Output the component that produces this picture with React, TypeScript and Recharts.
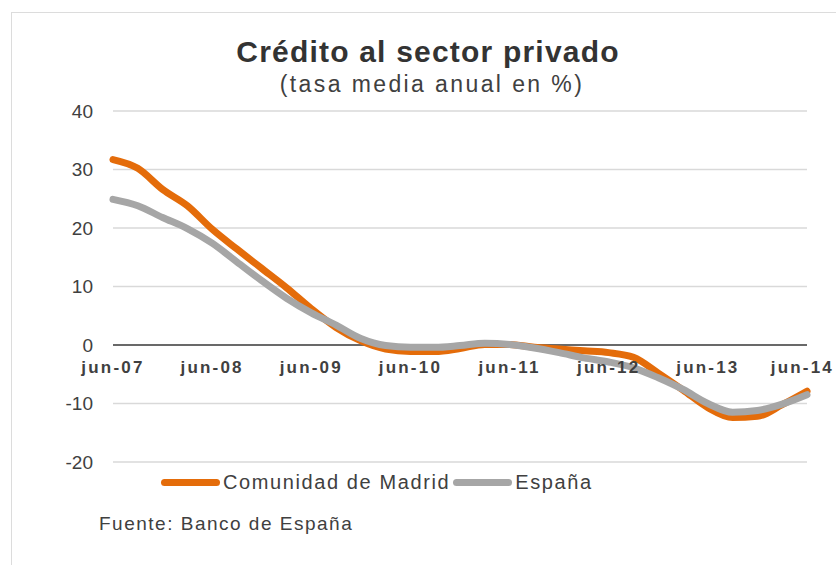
import React from 'react';
import {
  LineChart, Line, XAxis, YAxis, CartesianGrid, ReferenceLine,
} from 'recharts';

const MADRID_COLOR = '#E46C0A';
const SPAIN_COLOR = '#A6A6A6';
const GRID_COLOR = '#D9D9D9';
const TEXT_COLOR = '#404040';
const FONT = '"Liberation Sans", Arial, sans-serif';
const WIDTH = 836;

// quarterly points, jun-07 .. jun-14
const quarters = [
  'jun-07', 'sep-07', 'dic-07', 'mar-08',
  'jun-08', 'sep-08', 'dic-08', 'mar-09',
  'jun-09', 'sep-09', 'dic-09', 'mar-10',
  'jun-10', 'sep-10', 'dic-10', 'mar-11',
  'jun-11', 'sep-11', 'dic-11', 'mar-12',
  'jun-12', 'sep-12', 'dic-12', 'mar-13',
  'jun-13', 'sep-13', 'dic-13', 'mar-14',
  'jun-14',
];

const madrid = [
  31.7, 30.2, 26.6, 23.8,
  19.8, 16.4, 13.1, 9.8,
  6.2, 3.0, 0.7, -0.7,
  -1.1, -1.1, -0.6, 0.1,
  0.1, -0.4, -0.7, -1.0,
  -1.3, -2.1, -4.8, -7.7,
  -10.7, -12.4, -12.2, -10.2,
  -7.9,
];

const spain = [
  24.9, 23.8, 21.8, 19.9,
  17.4, 14.2, 11.0, 8.0,
  5.5, 3.4, 1.1, -0.1,
  -0.4, -0.4, -0.1, 0.3,
  0.1, -0.5, -1.3, -2.2,
  -2.9, -3.9, -5.6, -7.6,
  -10.0, -11.5, -11.2, -10.1,
  -8.5,
];

const yTicks = [-20, -10, 0, 10, 20, 30, 40];

const seriesNames = ['Comunidad de Madrid', 'España'];

const data = quarters.map((q, i) => ({ q, madrid: madrid[i], spain: spain[i] }));

// labels sit just under the zero line, not at the bottom of the plot
function XTick({ x, y, payload }: any) {
  const halfW = 36;
  const nearEdge = x + halfW > WIDTH - 2;
  return (
    <text
      x={nearEdge ? WIDTH - 2 : x}
      y={y - 89}
      textAnchor={nearEdge ? 'end' : 'middle'}
      fill={TEXT_COLOR}
      fontFamily={FONT}
      fontSize={17}
      fontWeight="bold"
      letterSpacing={2.2}
    >
      {payload.value}
    </text>
  );
}

function ChartLegend() {
  const items = [
    { name: seriesNames[0], color: MADRID_COLOR },
    { name: seriesNames[1], color: SPAIN_COLOR },
  ];
  return (
    <div style={{ position: 'absolute', left: 161, top: 471, display: 'flex', alignItems: 'center', fontFamily: FONT, fontSize: 20, color: TEXT_COLOR, whiteSpace: 'nowrap', letterSpacing: 1.6 }}>
      {items.map((it) => (
        <div key={it.name} style={{ display: 'flex', alignItems: 'center' }}>
          <span style={{ display: 'inline-block', width: 59, height: 7, borderRadius: 4, background: it.color, marginRight: 3 }} />
          <span style={{ marginRight: 3 }}>{it.name}</span>
        </div>
      ))}
    </div>
  );
}

export default function App() {
  return (
    <div style={{ position: 'absolute', left: 0, top: 0, width: WIDTH, height: 565, overflow: 'hidden', background: '#fff' }}>
      <div style={{ position: 'absolute', left: 11, top: 12, width: 840, height: 570, borderLeft: '1px solid #DCDCDC', borderTop: '1px solid #DCDCDC' }} />
      <svg width={WIDTH} height={110} style={{ position: 'absolute', left: 0, top: 0 }}>
        <text x={428} y={62} textAnchor="middle" fontFamily={FONT} fontSize={30} fontWeight="bold" fill="#333333" letterSpacing={1.2}>
          Crédito al sector privado
        </text>
        <text x={432} y={92} textAnchor="middle" fontFamily={FONT} fontSize={23} fill={TEXT_COLOR} letterSpacing={2.4}>
          (tasa media anual en %)
        </text>
      </svg>
      <div style={{ position: 'absolute', left: 0, top: 0 }}>
        <LineChart width={WIDTH} height={565} data={data} margin={{ top: 111, right: 29, bottom: 73, left: 73 }}>
          <CartesianGrid vertical={false} stroke={GRID_COLOR} strokeWidth={1.5} />
          <XAxis
            dataKey="q"
            interval={3}
            height={30}
            axisLine={false}
            tickLine={false}
            tickSize={0}
            tickMargin={0}
            tick={<XTick />}
          />
          <YAxis
            domain={[-20, 40]}
            ticks={yTicks}
            width={40}
            axisLine={false}
            tickLine={false}
            tickSize={0}
            tickMargin={20}
            tick={{ fill: TEXT_COLOR, fontSize: 19, fontFamily: FONT }}
          />
          <ReferenceLine y={0} stroke="#404040" strokeWidth={1.5} />
          <Line type="monotone" dataKey="madrid" name={seriesNames[0]} stroke={MADRID_COLOR} strokeWidth={7} dot={false} strokeLinecap="round" isAnimationActive={false} />
          <Line type="monotone" dataKey="spain" name={seriesNames[1]} stroke={SPAIN_COLOR} strokeWidth={7} dot={false} strokeLinecap="round" isAnimationActive={false} />
        </LineChart>
      </div>
      <ChartLegend />
      <div style={{ position: 'absolute', left: 99, top: 513, fontFamily: FONT, fontSize: 19, color: TEXT_COLOR, whiteSpace: 'nowrap', letterSpacing: 1.5 }}>
        Fuente: Banco de España
      </div>
    </div>
  );
}
